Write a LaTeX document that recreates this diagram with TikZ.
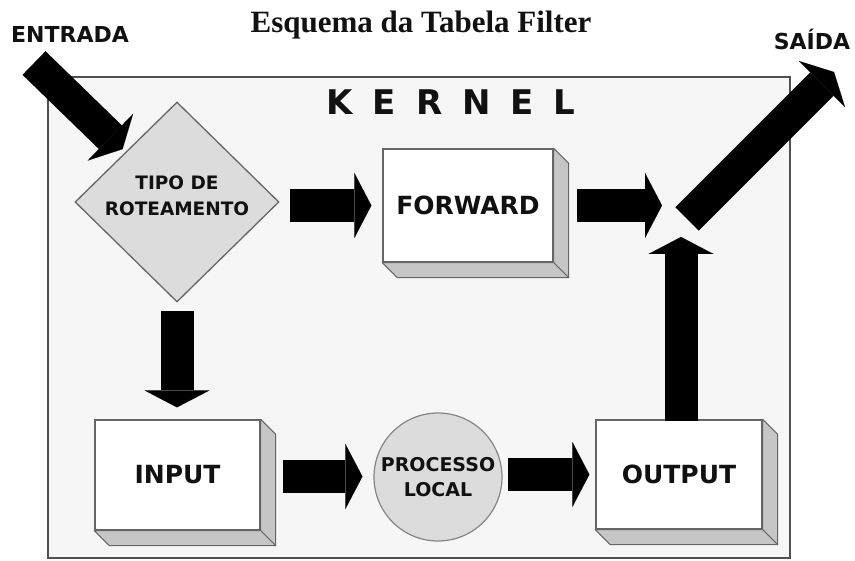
\documentclass[tikz,border=0pt]{standalone}
\usepackage{fontspec}
\newfontfamily\labelfont{DejaVu Sans}
\newfontfamily\titlefont{Liberation Serif}
\usetikzlibrary{arrows.meta,shapes.geometric}

\definecolor{kernelbg}{HTML}{F6F6F6}
\definecolor{kernelline}{HTML}{505050}
\definecolor{shapegray}{HTML}{DCDCDC}
\definecolor{edgegray}{HTML}{666666}
\definecolor{sidegray}{HTML}{C6C6C6}
\definecolor{inkblack}{HTML}{111111}

\tikzset{
  kernelframe/.style={draw=kernelline, line width=2.5pt, fill=kernelbg},
  stagebox/.style={rectangle, draw=edgegray, line width=1.3pt, fill=white,
    inner sep=0pt, text=inkblack, font=\labelfont\bfseries\fontsize{25}{30}\selectfont},
  sideface/.style={draw=edgegray, line width=1pt, fill=sidegray, line join=round},
  decision/.style={diamond, draw=edgegray, line width=1.3pt, fill=shapegray,
    inner sep=0pt, minimum width=204pt, minimum height=200pt},
  process/.style={circle, draw=edgegray!80, line width=1.2pt, fill=shapegray,
    inner sep=0pt, minimum size=128pt, align=center, text=inkblack,
    font=\labelfont\bfseries\fontsize{19}{25}\selectfont},
  smalltext/.style={inner sep=0pt, align=center, text=inkblack,
    font=\labelfont\bfseries\fontsize{18.5}{26}\selectfont},
  endlabel/.style={inner sep=0pt, text=inkblack,
    font=\labelfont\bfseries\fontsize{22}{26}\selectfont},
  bigarrow/.style={draw=black, line width=33pt, line cap=butt,
    -{Triangle[length=17pt,width=65pt,line width=0.01pt]}},
}

% side and bottom faces of a raised box
\newcommand\raisedfaces[1]{%
  \filldraw[sideface] (#1.north east) -- ++(15,15)
    -- ([shift={(15,15)}]#1.south east) -- (#1.south east) -- cycle;
  \filldraw[sideface] (#1.south west) -- ++(15,15)
    -- ([shift={(15,15)}]#1.south east) -- (#1.south east) -- cycle;
}

\begin{document}
\begin{tikzpicture}[x=1pt,y=-1pt]
\useasboundingbox (0,0) rectangle (855,561);
\fill[white] (0,0) rectangle (855,561);

% title
\node[anchor=base, inner sep=0pt, text=inkblack,
      font=\titlefont\bfseries\fontsize{31}{36}\selectfont] (title) at (421,33)
  {Esquema da Tabela Filter};

% kernel area
\draw[kernelframe] (48,77) rectangle (790,558);
\node[anchor=base, inner sep=0pt, text=inkblack,
      font=\labelfont\bfseries\fontsize{34}{40}\selectfont] (kernel) at (451,115)
  {K\hspace{20pt}E\hspace{20pt}R\hspace{20pt}N\hspace{20pt}E\hspace{20pt}L};

% entry and exit labels
\node[endlabel, anchor=base west] (entrada) at (11,43) {ENTRADA};
\node[endlabel, anchor=base] (saida) at (812,50) {SAÍDA};

% routing decision
\node[decision] (dia) at (177,202) {};
\node[smalltext] (diatext) at (177,196) {TIPO DE\\ROTEAMENTO};

% chains
\node[stagebox, minimum width=170pt, minimum height=113pt] (fwd) at (468,205.5) {FORWARD};
\raisedfaces{fwd}
\node[stagebox, minimum width=165pt, minimum height=110pt] (inp) at (177.5,475) {INPUT};
\raisedfaces{inp}
\node[stagebox, minimum width=166pt, minimum height=109pt] (out) at (679,474.5) {OUTPUT};
\raisedfaces{out}

% local process
\node[process] (proc) at (438,477) {PROCESSO\\LOCAL};

% free ends of the connectors
\coordinate (entry) at (34,63);
\coordinate (junc) at (681,206);
\coordinate (exitstart) at (687,219);
\coordinate (exit) at (834,72);

% block arrows
\draw[bigarrow, shorten >=4pt] (entry) -- (dia);
\draw[bigarrow, shorten <=10pt, shorten >=11pt] (dia.east |- fwd.west) -- (fwd.west);
\draw[bigarrow, shorten <=8pt, shorten >=12pt] (dia.south) -- (dia.south |- inp.north);
\draw[bigarrow, shorten <=22pt, shorten >=11pt] ([yshift=-1.5pt]inp.east) -- ([yshift=-1.5pt]inp.east -| proc.west);
\draw[bigarrow, shorten <=5pt, shorten >=6pt] (out.west -| proc.east) -- (out.west);
\draw[bigarrow, shorten <=23pt, shorten >=19pt] (fwd.east) -- (fwd.east -| junc);
\draw[bigarrow, shorten <=-2pt, shorten >=31pt] (junc |- out.north) -- (junc);
\draw[bigarrow] (exitstart) -- (exit);
\end{tikzpicture}
\end{document}
